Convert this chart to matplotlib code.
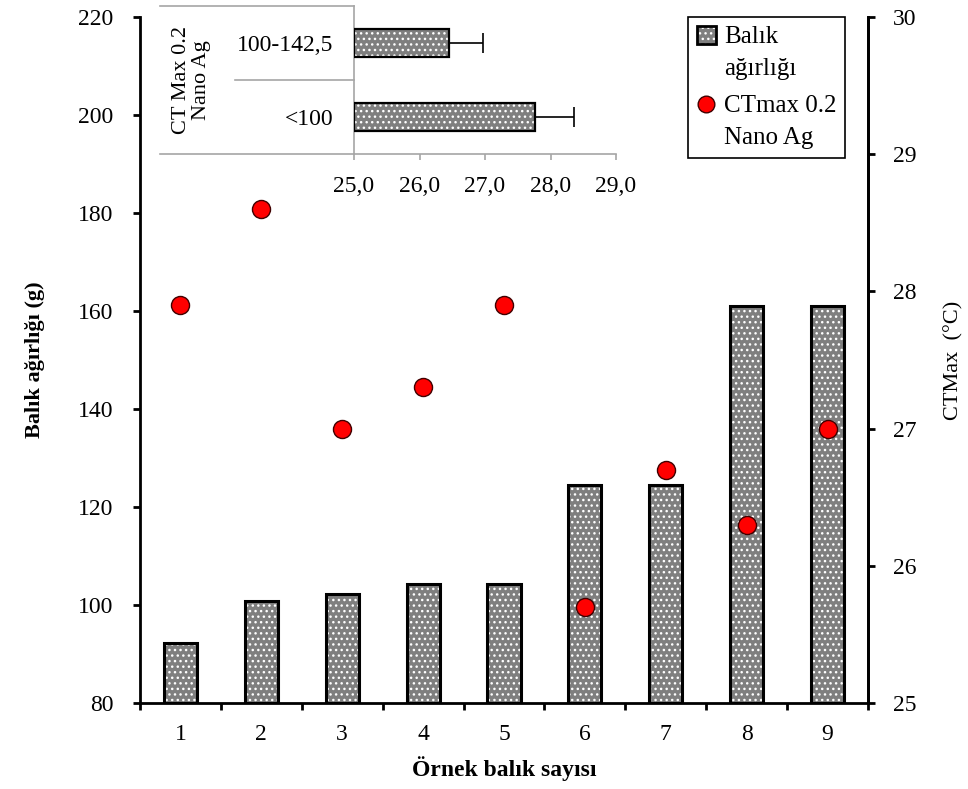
import matplotlib
matplotlib.use("Agg")
import matplotlib.pyplot as plt
from matplotlib.legend_handler import HandlerBase
from matplotlib.patches import Rectangle
from matplotlib.lines import Line2D

plt.rcParams['font.family'] = ['Liberation Serif', 'DejaVu Serif']

# main chart data
fish_no = [1, 2, 3, 4, 5, 6, 7, 8, 9]
weight_g = [92.2, 100.8, 102.2, 104.3, 104.3, 124.5, 124.5, 161.0, 161.0]
ctmax = [27.9, 28.6, 27.0, 27.3, 27.9, 25.7, 26.7, 26.3, 27.0]

# inset data
groups = ['<100', '100-142,5']
group_ctmax = [27.76, 26.45]
group_err = [0.60, 0.52]
inset_ticks = [25, 26, 27, 28, 29]
inset_ticklabels = ['25,0', '26,0', '27,0', '28,0', '29,0']

bar_gray = '#7f7f7f'
line_gray = '#a6a6a6'
fs = 17   # horizontal texts
fsv = 16  # rotated texts
LIFT = 0.7  # legend handle raised to first line of its label


class SquareHandler(HandlerBase):
    def create_artists(self, legend, orig_handle, xdescent, ydescent,
                       width, height, fontsize, trans):
        s = 0.75 * fontsize
        x0 = -xdescent + (width - s) / 2
        y0 = -ydescent + (height - s) / 2 + LIFT * fontsize
        fill = Rectangle((x0, y0), s, s, facecolor=bar_gray, edgecolor='white',
                         linewidth=0, hatch='...', transform=trans)
        edge = Rectangle((x0, y0), s, s, fill=False, edgecolor='black',
                         linewidth=2, transform=trans)
        return [fill, edge]


class DotHandler(HandlerBase):
    def create_artists(self, legend, orig_handle, xdescent, ydescent,
                       width, height, fontsize, trans):
        m = Line2D([-xdescent + width / 2], [-ydescent + height / 2 + LIFT * fontsize],
                   marker='o', linestyle='none', color='red', markersize=12,
                   markeredgecolor='#400000', markeredgewidth=1.0, transform=trans)
        return [m]


fig = plt.figure(figsize=(9.68, 7.89), dpi=100)
ax = fig.add_axes([140/968, 1-703/789, 728/968, 686/789])
ax2 = ax.twinx()

# bars: hatched fill first, then black outline on top
hb = ax.bar(fish_no, [w - 80 for w in weight_g], bottom=80, width=0.41,
            color=bar_gray, edgecolor='white', linewidth=0, hatch='...', zorder=2)
ob = ax.bar(fish_no, [w - 80 for w in weight_g], bottom=80, width=0.41,
            fill=False, edgecolor='black', linewidth=2.2, zorder=3)

sc, = ax2.plot(fish_no, ctmax, 'o', color='red', markersize=13,
               markeredgecolor='#400000', markeredgewidth=1.0, zorder=5)

ax.set_xlim(0.5, 9.5)
ax.set_ylim(80, 220)
ax.set_yticks(range(80, 221, 20))
ax2.set_ylim(25, 30)
ax2.set_yticks(range(25, 31))

ax.set_xticks(fish_no)
ax.set_xticks([x + 0.5 for x in range(0, 10)], minor=True)
ax.tick_params(axis='x', which='major', length=0, pad=15, labelsize=fs)
ax.tick_params(axis='x', which='minor', direction='out', length=5, width=2)
ax.tick_params(axis='y', direction='out', length=5, width=2, pad=14, labelsize=fs)
ax2.tick_params(axis='y', direction='out', length=5, width=2, pad=13, labelsize=fs)

for a in (ax, ax2):
    a.spines['top'].set_visible(False)
    for s in ('left', 'right', 'bottom'):
        a.spines[s].set_linewidth(2)
ax2.spines['left'].set_visible(False)
ax2.spines['bottom'].set_visible(False)

ax.set_xlabel('Örnek balık sayısı', fontsize=fs, fontweight='bold', labelpad=8)
ax.set_ylabel('Balık ağırlığı (g)', fontsize=fsv, fontweight='bold', labelpad=24)
ax2.set_ylabel('CTMax  (°C)', fontsize=fsv, labelpad=20)

leg = ax2.legend([hb[0], sc], ['Balık\nağırlığı', 'CTmax 0.2\nNano Ag'],
                 handler_map={hb[0]: SquareHandler(), sc: DotHandler()},
                 loc='upper right', bbox_to_anchor=(845/968, 1-17/789),
                 bbox_transform=fig.transFigure, borderaxespad=0,
                 fontsize=18, fancybox=False, edgecolor='black', framealpha=1,
                 handlelength=0.8, handleheight=0.7, handletextpad=0.3,
                 labelspacing=0.6, borderpad=0.35)
leg.get_frame().set_linewidth(1.2)
for t in leg.get_texts():
    t.set_linespacing(1.6)

# inset horizontal bar chart
axi = fig.add_axes([354/968, 1-154/789, 262/968, 148/789])
axi.barh([0, 1], [v - 25 for v in group_ctmax], left=25, height=0.39,
         color=bar_gray, edgecolor='white', linewidth=0, hatch='...', zorder=2)
axi.barh([0, 1], [v - 25 for v in group_ctmax], left=25, height=0.39,
         fill=False, edgecolor='black', linewidth=1.6, zorder=3)
axi.errorbar(group_ctmax, [0, 1], xerr=[[0, 0], group_err], fmt='none',
             ecolor='black', elinewidth=1.2, capsize=7, capthick=1.2, zorder=4)
axi.set_xlim(25, 29)
axi.set_ylim(-0.5, 1.5)
axi.set_xticks(inset_ticks)
axi.set_xticklabels(inset_ticklabels)
axi.set_yticks([0, 1])
axi.set_yticklabels(groups)
axi.tick_params(axis='y', length=0, pad=15, labelsize=fs)
axi.tick_params(axis='x', direction='out', length=4, width=1.2, color=line_gray,
                pad=12, labelsize=fs)
axi.spines['top'].set_visible(False)
axi.spines['right'].set_visible(False)
axi.spines['left'].set_color(line_gray)
axi.spines['bottom'].set_color(line_gray)
axi.spines['left'].set_linewidth(1.2)
axi.spines['bottom'].set_linewidth(1.2)
axi.patch.set_alpha(0)
# category group lines
axi.plot([-0.74, 0], [0, 0], transform=axi.transAxes, color=line_gray, lw=1.2, clip_on=False)
axi.plot([-0.74, 0], [1, 1], transform=axi.transAxes, color=line_gray, lw=1.2, clip_on=False)
axi.plot([-0.454, 0], [0.5, 0.5], transform=axi.transAxes, color=line_gray, lw=1.2, clip_on=False)
axi.text(-0.62, 0.5, 'CT Max 0.2\nNano Ag', transform=axi.transAxes, rotation=90,
         ha='center', va='center', fontsize=fsv, linespacing=1.1)

fig.savefig('out.png', dpi=100)
